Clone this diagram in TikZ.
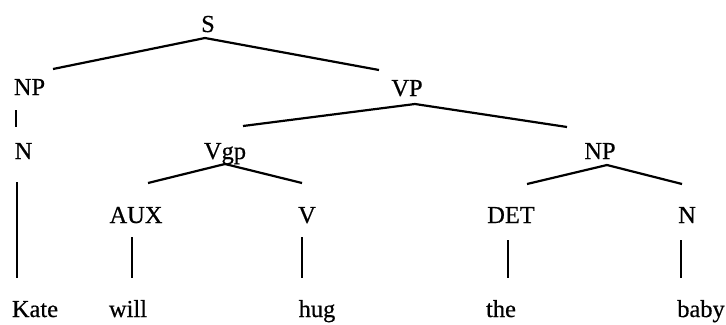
\documentclass[tikz,border=0pt]{standalone}
\usepackage{fontspec}
\setmainfont{Liberation Serif}
\newfontfamily\treefont{Liberation Serif}[FakeBold=0.6]
\usetikzlibrary{calc}
\begin{document}
\begin{tikzpicture}[x=1bp,y=-1bp,
  lbl/.style={anchor=base,inner sep=0pt,font=\treefont\fontsize{24.5}{29}\selectfont},
  branch/.style={line width=2.2bp},
  stem/.style={line width=1.4bp}]
\useasboundingbox (0,0) rectangle (726,324);
% nodes
\node[lbl] (S)    at (208,32)  {S};
\node[lbl] (NPa)  at (29.5,95) {NP};
\node[lbl] (VP)   at (407,96)  {VP};
\node[lbl] (Na)   at (23.5,159) {N};
\node[lbl] (Vgp)  at (225,159) {Vgp};
\node[lbl] (NPb)  at (600,159) {NP};
\node[lbl] (AUX)  at (136,223) {AUX};
\node[lbl] (V)    at (307,223) {V};
\node[lbl] (DET)  at (511,223) {DET};
\node[lbl] (Nb)   at (687,223) {N};
\node[lbl] (kate) at (35,317)  {Kate};
\node[lbl] (will) at (128,317) {will};
\node[lbl] (hug)  at (317,317) {hug};
\node[lbl] (the)  at (501,317) {the};
\node[lbl] (baby) at (701,317) {baby};
% branches
\draw[branch] ($(S.base)+(-3,6)$) -- ($(NPa.base)+(23.5,-26)$);
\draw[branch] ($(S.base)+(-3,6)$) -- ($(VP.base)+(-28,-26)$);
\draw[stem]   ($(NPa.base)+(-13.5,15)$) -- ($(Na.base)+(-7.5,-32)$);
\draw[branch] ($(VP.base)+(8,8)$) -- ($(Vgp.base)+(18,-33)$);
\draw[branch] ($(VP.base)+(8,8)$) -- ($(NPb.base)+(-33,-32)$);
\draw[stem]   ($(Na.base)+(-6.5,23)$) -- ($(kate.base)+(-18,-39)$);
\draw[branch] ($(Vgp.base)+(0,5)$) -- ($(AUX.base)+(12,-40)$);
\draw[branch] ($(Vgp.base)+(0,5)$) -- ($(V.base)+(-5,-40)$);
\draw[branch] ($(NPb.base)+(7,6)$) -- ($(DET.base)+(16,-39)$);
\draw[branch] ($(NPb.base)+(7,6)$) -- ($(Nb.base)+(-5,-39)$);
\draw[stem]   ($(AUX.base)+(-4,14)$) -- ($(will.base)+(4,-39)$);
\draw[stem]   ($(V.base)+(-5,14)$) -- ($(hug.base)+(-15,-39)$);
\draw[stem]   ($(DET.base)+(-3,17)$) -- ($(the.base)+(7,-39)$);
\draw[stem]   ($(Nb.base)+(-6,17)$) -- ($(baby.base)+(-20,-39)$);
\end{tikzpicture}
\end{document}
